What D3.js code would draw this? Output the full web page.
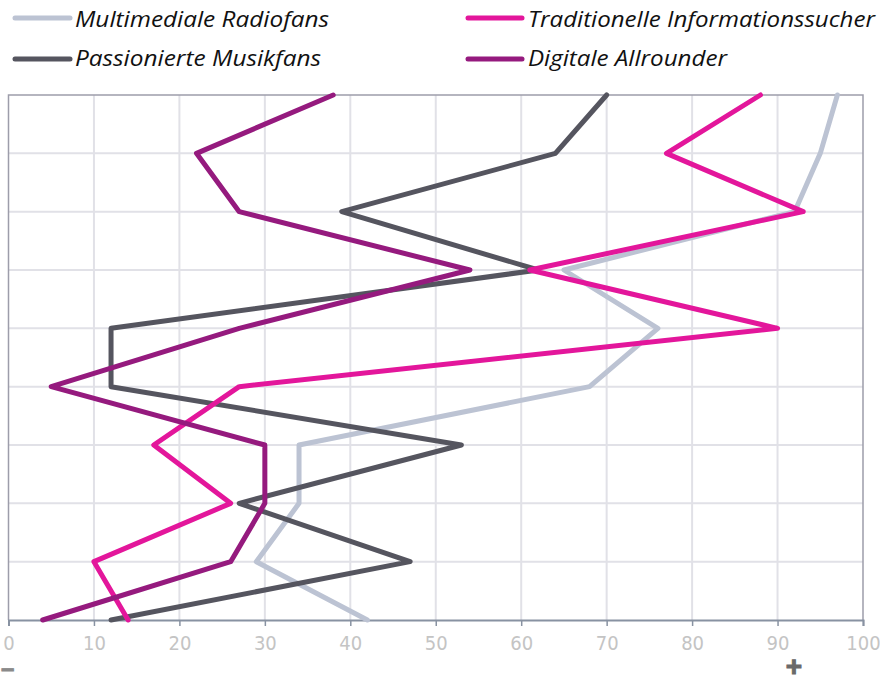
<!DOCTYPE html>
<html><head><meta charset="utf-8">
<script src="https://cdn.jsdelivr.net/npm/d3@7"></script>
<style>body{margin:0;background:#fff}svg{display:block}</style>
</head><body>
<script>
const rows = [0,1,2,3,4,5,6,7,8,9];
const xTicks = [0,10,20,30,40,50,60,70,80,90,100];
const seriesNames = ["Multimediale Radiofans","Traditionelle Informationssucher","Passionierte Musikfans","Digitale Allrounder"];
const multimediale = [97,95,92,65,76,68,34,34,29,42];
const traditionelle = [88,77,93,61,90,27,17,26,10,14];
const passionierte = [70,64,39,62,12,12,53,27,47,12];
const digitale = [38,22,27,54,27,5,30,30,26,4];
const colors = ["#bcc3d3","#e3169b","#55555f","#951a7e"];

const W=880,H=682;
const svg=d3.select("body").append("svg").attr("width",W).attr("height",H);
const x=d3.scaleLinear().domain([0,100]).range([8.5,863]);
const y=d3.scaleLinear().domain([0,9]).range([95,620]);

// gridlines
svg.append("g").selectAll("line").data(xTicks.slice(1,-1)).join("line")
 .attr("x1",d=>x(d)).attr("x2",d=>x(d)).attr("y1",y(0)).attr("y2",y(9))
 .attr("stroke","#e1e1e7").attr("stroke-width",2);
svg.append("g").selectAll("line").data(rows.slice(1,-1)).join("line")
 .attr("x1",x(0)).attr("x2",x(100)).attr("y1",d=>y(d)).attr("y2",d=>y(d))
 .attr("stroke","#e1e1e7").attr("stroke-width",2);
// border
svg.append("path").attr("d",`M${x(0)},${y(9)}V${y(0)}H${x(100)}V${y(9)}`)
 .attr("fill","none").attr("stroke","#9d9daa").attr("stroke-width",1.5);

// x axis
const ax=svg.append("g").attr("transform",`translate(0,${y(9)})`)
 .call(d3.axisBottom(x).tickValues(xTicks).tickSize(6).tickPadding(10).tickFormat(d3.format("d")));
ax.select(".domain").attr("stroke","#8892a2").attr("stroke-width",2);
ax.selectAll(".tick line").attr("stroke","#8892a2").attr("stroke-width",1.5);
ax.selectAll(".tick text").attr("fill","#c4c4c4").attr("font-size",20)
 .attr("font-family","'Liberation Sans Narrow','DejaVu Sans Condensed',sans-serif");

// lines
const data=[multimediale,passionierte,traditionelle,digitale];
const colIdx=[0,2,1,3];
const line=d3.line().x(d=>x(d[0])).y(d=>y(d[1]));
data.forEach((vals,i)=>{
 svg.append("path").datum(vals.map((v,r)=>[v,rows[r]]))
  .attr("d",line).attr("fill","none").attr("stroke",colors[colIdx[i]])
  .attr("stroke-width",5).attr("stroke-linejoin","round").attr("stroke-linecap","round");
});

// legend
const leg=[
 {n:seriesNames[0],c:colors[0],x1:15,x2:70,ly:18,tx:75,ty:27,w:254},
 {n:seriesNames[1],c:colors[1],x1:468,x2:522,ly:18,tx:528,ty:27,w:347},
 {n:seriesNames[2],c:colors[2],x1:15,x2:70,ly:59,tx:75,ty:66,w:246},
 {n:seriesNames[3],c:colors[3],x1:468,x2:522,ly:59,tx:528,ty:66,w:199}
];
const lg=svg.append("g").selectAll("g").data(leg).join("g");
lg.append("line").attr("x1",d=>d.x1).attr("x2",d=>d.x2).attr("y1",d=>d.ly).attr("y2",d=>d.ly)
 .attr("stroke",d=>d.c).attr("stroke-width",5).attr("stroke-linecap","round");
lg.append("text").attr("x",d=>d.tx).attr("y",d=>d.ty).text(d=>d.n)
 .attr("font-family","'Open Sans',sans-serif").attr("font-style","italic").attr("font-size",22)
 .attr("fill","#111").attr("textLength",d=>d.w).attr("lengthAdjust","spacingAndGlyphs");

// minus / plus
svg.append("text").attr("x",1).attr("y",676).text("–").attr("font-family","'Liberation Sans',sans-serif")
 .attr("font-size",24).attr("font-weight","bold").attr("fill","#8a8a8a").attr("stroke","#8a8a8a").attr("stroke-width",0.8);
svg.append("text").attr("x",794).attr("y",676).attr("text-anchor","middle").text("+").attr("font-family","'Liberation Sans',sans-serif")
 .attr("font-size",28).attr("font-weight","bold").attr("fill","#6a6a6a").attr("stroke","#6a6a6a").attr("stroke-width",1);
</script>
</body></html>
